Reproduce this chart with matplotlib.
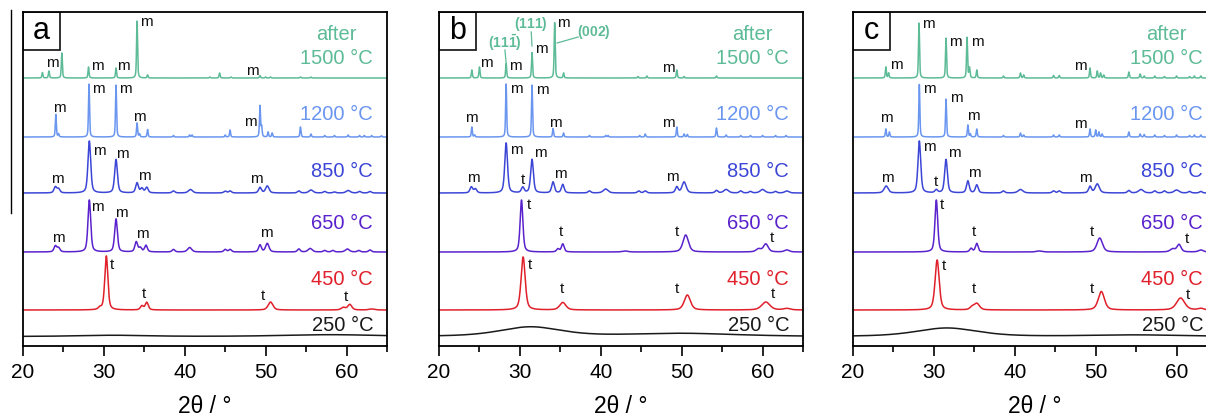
import numpy as np
import matplotlib.pyplot as plt
import matplotlib.patches as patches
from matplotlib.lines import Line2D

plt.rcParams['font.family'] = ['Liberation Sans', 'DejaVu Sans']
plt.rcParams['mathtext.fontset'] = 'custom'
plt.rcParams['mathtext.rm'] = 'Liberation Sans'
plt.rcParams['mathtext.bf'] = 'Liberation Sans:bold'

# temperatures (bottom to top), colours and vertical offsets of the traces
temps = ['250 °C', '450 °C', '650 °C', '850 °C', '1200 °C', '1500 °C']
colors = ['#1a1a1a', '#e0202a', '#5a22cc', '#3c46d6', '#6a96f0', '#5dbb97']
offsets = [9.5, 36, 94, 153, 209, 268]
temp_label_y = [22, 68, 124, 176, 233, 289]
widths = [9, 0.45, 0.4, 0.4, 0.15, 0.15]   # default FWHM per trace

# peaks: (2theta, height[, fwhm])
a_250 = [(31.0, 1.2, 10), (58.0, 1.8, 14)]
a_450 = [(29.5, 2), (30.3, 54), (34.7, 4), (35.3, 7.5), (50.6, 8, 0.7), (59.6, 2.5, 0.6),
         (60.4, 5.5, 0.6), (63.1, 1, 0.8)]
a_650 = [(24.0, 6), (24.4, 4), (28.2, 52), (31.5, 33), (34.0, 10), (34.5, 4), (35.2, 6.5),
         (38.6, 2.5), (40.6, 4.5, 0.6), (45.0, 2.5), (45.6, 2.5), (49.3, 7), (50.2, 8.5, 0.5),
         (54.1, 3), (55.5, 3.5, 0.6), (57.3, 1.5), (58.3, 1.5), (60.1, 3, 0.6), (61.5, 1.5),
         (62.9, 2)]
a_850 = [(24.0, 6), (24.4, 4), (28.2, 52), (31.5, 33.5), (34.1, 10), (34.7, 4.5), (35.3, 5.5),
         (38.6, 2), (40.7, 3.5, 0.6), (45.0, 1.8), (45.6, 2), (49.3, 5.5), (50.2, 7, 0.5),
         (54.1, 2), (55.6, 3, 0.6), (57.3, 1.5), (58.5, 1), (60.2, 2.5, 0.6), (61.6, 1.5),
         (62.9, 1.5)]
a_1200 = [(24.06, 22.5), (24.4, 3), (28.16, 53), (31.5, 52), (34.1, 14), (34.4, 3), (35.4, 7.5),
          (38.6, 1.5), (40.6, 2), (40.9, 2), (45.0, 2), (45.6, 7), (49.3, 31), (49.5, 10),
          (50.3, 5), (50.8, 4), (54.3, 10), (55.6, 3), (57.3, 1.5), (58.5, 1.5), (60.2, 2),
          (61.6, 1.5), (62.2, 1.5), (63.1, 1.5), (64.3, 1.2)]
a_1500 = [(22.4, 5.5), (23.2, 7), (24.8, 25), (28.1, 11), (31.5, 10), (34.1, 57), (35.4, 3),
          (43.1, 1), (44.3, 5), (45.7, 1), (49.3, 2.5), (50.0, 1), (50.6, 1), (54.3, 1), (55.6, 1)]

b_250 = [(31.3, 9.5, 9), (50.0, 3, 16)]
b_450 = [(30.4, 53, 0.6), (35.3, 7.5, 0.9), (50.7, 15, 0.9), (60.4, 8, 1.2), (63.0, 1.5, 1.0)]
b_650 = [(30.2, 52), (34.7, 3), (35.3, 8), (43.0, 1, 0.8), (50.5, 17, 0.8), (59.5, 3, 0.7),
         (60.4, 8, 0.7), (63.0, 2, 0.7)]
b_850 = [(24.0, 6), (24.5, 4), (28.3, 50), (30.35, 5.5), (31.5, 33.5), (34.1, 11), (35.3, 8.5),
         (38.6, 2), (40.6, 4, 0.7), (44.7, 2), (45.5, 2), (49.4, 6), (50.3, 11, 0.6), (54.3, 2.5),
         (55.5, 3.5, 0.7), (57.3, 2), (58.5, 1.5), (60.0, 3.5, 0.7), (61.6, 1.5), (63.0, 2, 0.6)]
b_1200 = [(24.06, 10), (24.4, 2), (28.3, 53), (31.5, 52), (34.1, 8.5), (35.4, 4), (38.6, 1.5),
          (40.6, 1.5), (40.9, 1.5), (44.8, 1.5), (45.5, 3), (49.4, 10), (50.3, 3), (50.7, 2.5),
          (54.3, 9), (55.5, 2), (57.3, 1.5), (58.5, 1.5), (60.0, 1.5), (61.6, 1.5), (62.9, 1.5)]
b_1500 = [(24.06, 8), (25.0, 11), (28.3, 14.5), (31.5, 25.5), (34.3, 55.5), (35.4, 5),
          (44.6, 1.5), (45.7, 2), (49.4, 8), (50.3, 1.5), (54.3, 2)]

c_250 = [(31.6, 8.5, 9), (55.0, 1.5, 14)]
c_450 = [(30.4, 50, 0.6), (34.7, 2.5, 0.6), (35.3, 6.5, 0.8), (50.7, 18.5, 0.9), (60.5, 12, 1.2),
         (63.0, 1.5, 0.8)]
c_650 = [(30.3, 52), (34.6, 3.5), (35.3, 8.5), (43.0, 1, 0.8), (50.5, 14, 0.8), (59.5, 3, 0.7),
         (60.3, 7.5, 0.6), (63.0, 2, 0.7)]
c_850 = [(24.1, 7, 0.6), (28.2, 52), (30.3, 3), (31.5, 33.5), (34.2, 12), (35.3, 8), (38.6, 2),
         (40.7, 3.5, 0.7), (44.8, 2), (45.5, 2), (49.3, 6.5), (50.2, 9, 0.6), (54.1, 2.5),
         (55.6, 3.5, 0.7), (57.3, 2), (58.5, 2), (60.0, 3, 0.7), (61.6, 1.5), (63.0, 1.5)]
c_1200 = [(24.06, 8), (24.5, 5), (28.2, 52.5), (31.5, 38), (34.2, 12), (34.5, 3), (35.3, 8),
          (38.6, 1.5), (40.7, 4), (41.1, 2), (44.8, 2), (45.5, 2), (49.3, 8), (50.0, 7), (50.4, 5),
          (50.8, 3), (54.1, 5), (55.5, 3), (56.0, 2.5), (57.3, 2), (58.5, 1.5), (60.0, 2),
          (61.6, 1.5), (62.2, 2), (63.0, 2)]
c_1500 = [(24.06, 11), (24.4, 5), (28.16, 55), (31.5, 40), (34.1, 40.5), (34.4, 10), (35.3, 8),
          (38.6, 2), (40.7, 5), (41.1, 3), (44.8, 2.5), (45.5, 2.5), (49.3, 10), (50.2, 7),
          (50.6, 5), (51.0, 3), (54.1, 6), (55.5, 4), (56.0, 2), (57.3, 2), (58.5, 1.5),
          (60.0, 2), (61.6, 1.5), (62.2, 2), (63.0, 2)]

# phase markers (2theta, y, text)
a_marks = [(23.6, 283, 'm'), (29.2, 280, 'm'), (32.4, 280, 'm'), (35.2, 324, 'm'), (48.3, 275, 'm'),
           (24.5, 238, 'm'), (29.3, 257, 'm'), (32.7, 257, 'm'), (34.4, 229, 'm'), (48.1, 224, 'm'),
           (24.2, 167, 'm'), (29.4, 195, 'm'), (32.3, 192, 'm'), (35.0, 170, 'm'), (48.8, 167, 'm'),
           (24.4, 108, 'm'), (29.2, 139, 'm'), (32.2, 133, 'm'), (34.7, 112, 'm'), (50.1, 113, 'm'),
           (31.0, 81, 't'), (35.0, 52, 't'), (49.7, 50, 't'), (59.9, 49, 't')]
b_marks = [(25.9, 283, 'm'), (29.4, 280, 'm'), (32.6, 297, 'm'), (35.4, 323, 'm'), (48.4, 278, 'm'),
           (24.06, 228, 'm'), (29.6, 257, 'm'), (32.8, 256, 'm'), (34.4, 223, 'm'), (48.4, 223, 'm'),
           (24.3, 168, 'm'), (29.6, 196, 'm'), (30.35, 166, 't'), (32.5, 193, 'm'), (35.0, 172, 'm'),
           (48.8, 169, 'm'),
           (31.1, 141, 't'), (35.1, 114, 't'), (49.4, 114, 't'), (61.2, 108, 't'),
           (31.3, 81, 't'), (35.2, 57, 't'), (49.4, 57, 't'), (61.3, 52, 't')]
c_marks = [(25.4, 281, 'm'), (29.3, 322, 'm'), (32.7, 304, 'm'), (35.4, 304, 'm'), (48.1, 280, 'm'),
           (24.1, 228, 'm'), (29.4, 257, 'm'), (32.8, 248, 'm'), (34.9, 230, 'm'), (48.1, 222, 'm'),
           (24.2, 168, 'm'), (29.5, 199, 'm'), (30.3, 164, 't'), (32.5, 193, 'm'), (35.0, 173, 'm'),
           (48.7, 168, 'm'),
           (31.0, 141, 't'), (35.0, 114, 't'), (49.5, 114, 't'), (61.3, 107, 't'),
           (31.2, 80, 't'), (35.0, 57, 't'), (49.5, 57, 't'), (61.4, 51, 't')]

# hkl labels in panel b: text, text position, leader start, leader end
hkl_text = [r'$\mathbf{(11\bar{1})}$', r'$\mathbf{(111)}$', r'$\mathbf{(002)}$']
hkl_pos = [(28.1, 303), (31.3, 322), (39.2, 314)]
hkl_lead = [((28.15, 296), (28.3, 283)), ((31.4, 314), (31.5, 300)), ((37.2, 309), (34.6, 303))]

panels = ['a', 'b', 'c']
panel_peaks = [[a_250, a_450, a_650, a_850, a_1200, a_1500],
               [b_250, b_450, b_650, b_850, b_1200, b_1500],
               [c_250, c_450, c_650, c_850, c_1200, c_1500]]
panel_marks = [a_marks, b_marks, c_marks]
panel_left = [23, 439, 853]


def profile(x, peaks, w):
    y = np.zeros_like(x)
    for p in peaks:
        fw = p[2] if len(p) > 2 else w
        u = (x - p[0]) / (fw / 2)
        y += p[1] * (0.5 / (1 + u ** 2) + 0.5 * np.exp(-np.log(2) * u ** 2))
    return y


W, H = 1206, 417
fig = plt.figure(figsize=(W / 100, H / 100), dpi=100)
x = np.linspace(20, 65, 5000)
teal = colors[5]

for k in range(3):
    ax = fig.add_axes([panel_left[k] / W, 71 / H, 364 / W, 334 / H])
    for i in range(6):
        y = offsets[i] + profile(x, panel_peaks[k][i], widths[i])
        ax.plot(x, y, color=colors[i], lw=1.1)
        ax.text(63.3, temp_label_y[i] - 7, temps[i], color=colors[i], fontsize=14.5,
                ha='right', va='baseline')
    ax.text(58.75, 313 - 7, 'after', color=teal, fontsize=14.5, ha='center', va='baseline')
    for mx, my, mt in panel_marks[k]:
        ax.text(mx, my, mt, fontsize=11, ha='center', va='center', color='#111111')
    if k == 1:
        for t, (tx, ty), (p0, p1) in zip(hkl_text, hkl_pos, hkl_lead):
            ax.text(tx, ty, t, color=teal, fontsize=10, ha='center', va='center')
            ax.plot([p0[0], p1[0]], [p0[1], p1[1]], color=teal, lw=0.9)
    ax.set_xlim(20, 65)
    ax.set_ylim(0, 334)
    ax.set_yticks([])
    ax.set_xticks([20, 30, 40, 50, 60])
    ax.set_xticks([25, 35, 45, 55, 65], minor=True)
    ax.tick_params(axis='x', which='major', direction='out', length=7, width=1.2,
                   labelsize=15, pad=5)
    ax.tick_params(axis='x', which='minor', direction='out', length=4, width=1.2)
    for s in ax.spines.values():
        s.set_linewidth(1.3)
    ax.text(0.5, -0.18, '2θ / °', transform=ax.transAxes, fontsize=16.5,
            ha='center', va='center')
    bw, bh = 37 / 364, 38 / 334
    ax.add_patch(patches.Rectangle((0, 1 - bh), bw, bh, transform=ax.transAxes,
                                   fill=False, lw=1.3, color='#222222'))
    ax.text(bw / 2, 1 - bh / 2, panels[k], transform=ax.transAxes, fontsize=22,
            ha='center', va='center')

# stray vertical rule at the left edge
fig.add_artist(Line2D([11 / W, 11 / W], [(H - 10) / H, (H - 213) / H], color='black', lw=1.0))

fig.savefig('out.png', dpi=100)
